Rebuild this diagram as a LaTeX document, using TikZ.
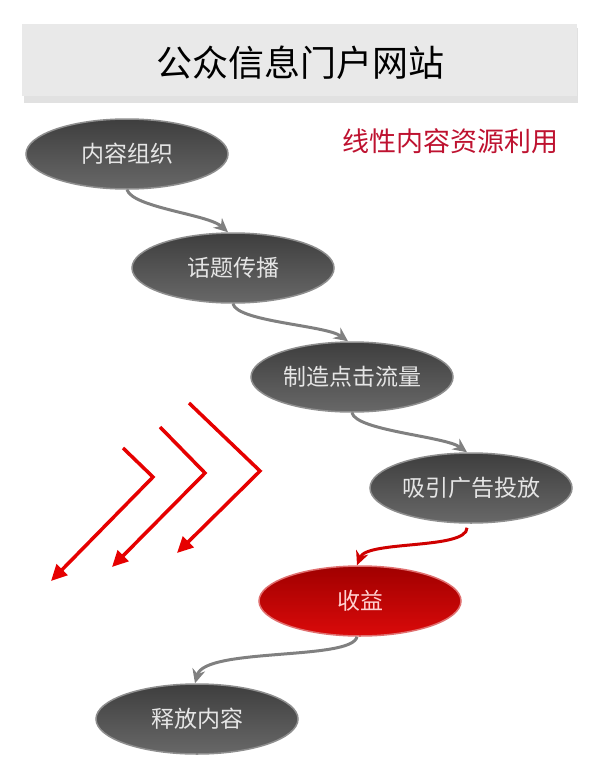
\documentclass[tikz,border=0pt]{standalone}
\usepackage{fontspec}
\newfontfamily\cjk{Noto Sans CJK SC}
\usetikzlibrary{shapes.geometric, arrows.meta}
\usepackage{xcolor}
\definecolor{boxgray}{HTML}{E9E9E9}
\definecolor{boxshade}{HTML}{E1E1E1}
\definecolor{ovaltop}{HTML}{3E3E3E}
\definecolor{ovalbot}{HTML}{686868}
\definecolor{ovalrim}{HTML}{8E8E8E}
\definecolor{linkgray}{HTML}{808080}
\definecolor{redtop}{HTML}{A00000}
\definecolor{redbot}{HTML}{DA0A0A}
\definecolor{redrim}{HTML}{E07070}
\definecolor{chevred}{HTML}{E60000}
\definecolor{subred}{HTML}{BE1230}

\tikzset{
  oval/.style={ellipse, minimum width=202pt, minimum height=70pt, inner sep=0pt,
    top color=ovaltop, bottom color=ovalbot, draw=ovalrim, line width=1.5pt,
    text=white!90!black, font=\cjk\fontsize{23}{23}\selectfont},
  redoval/.style={oval, top color=redtop, bottom color=redbot, draw=redrim, text=red!18},
  link/.style={-{Stealth[length=14pt,width=13pt]}, line width=3pt, draw=linkgray},
  redlink/.style={link, draw=chevred!90!black},
  chevron/.style={-{Triangle[length=16pt,width=15pt]}, line width=3.5pt, draw=chevred}
}

\begin{document}
\begin{tikzpicture}[x=1pt, y=-1pt]
        \useasboundingbox (0,0) rectangle (600,779);

        % title bar
        \fill[boxshade] (24,28) rectangle (578,103);
        \fill[boxgray] (22,24) rectangle (577,96);
        \node (title) at (300,63) {\cjk\fontsize{36}{36}\selectfont 公众信息门户网站};
        \node[text=subred] (sub) at (450,141) {\cjk\fontsize{27}{27}\selectfont 线性内容资源利用};

        % steps
        \node[oval] (org) at (127,154) {内容组织};
        \node[oval] (spread) at (233,268) {话题传播};
        \node[oval] (click) at (352,377) {制造点击流量};
        \node[oval] (ads) at (471,488) {吸引广告投放};
        \node[redoval] (gain) at (360,601) {收益};
        \node[oval] (release) at (197,719) {释放内容};

        \draw[link] (org.south) .. controls +(6,18) and +(-20,-18) .. ([xshift=-5pt]spread.north);
        \draw[link] (spread.south) .. controls +(4,18) and +(-22,-16) .. ([xshift=-4pt]click.north);
        \draw[link] (click.south) .. controls +(4,18) and +(-22,-16) .. ([xshift=-4pt]ads.north);
        \draw[redlink] ([xshift=-4pt,yshift=-4pt]ads.south) .. controls +(0,22) and +(10,-25) .. ([xshift=-3pt]gain.north);
        \draw[link] ([xshift=-3pt]gain.south) .. controls +(-5,24) and +(10,-36) .. ([xshift=-2pt]release.north);

        % red chevrons
        \draw[chevron] (123,448) -- (153,477) -- (51,581);
        \draw[chevron] (160,427) -- (205,473) -- (112,567);
        \draw[chevron] (189,403) -- (260,471) -- (177,553);
\end{tikzpicture}
\end{document}
